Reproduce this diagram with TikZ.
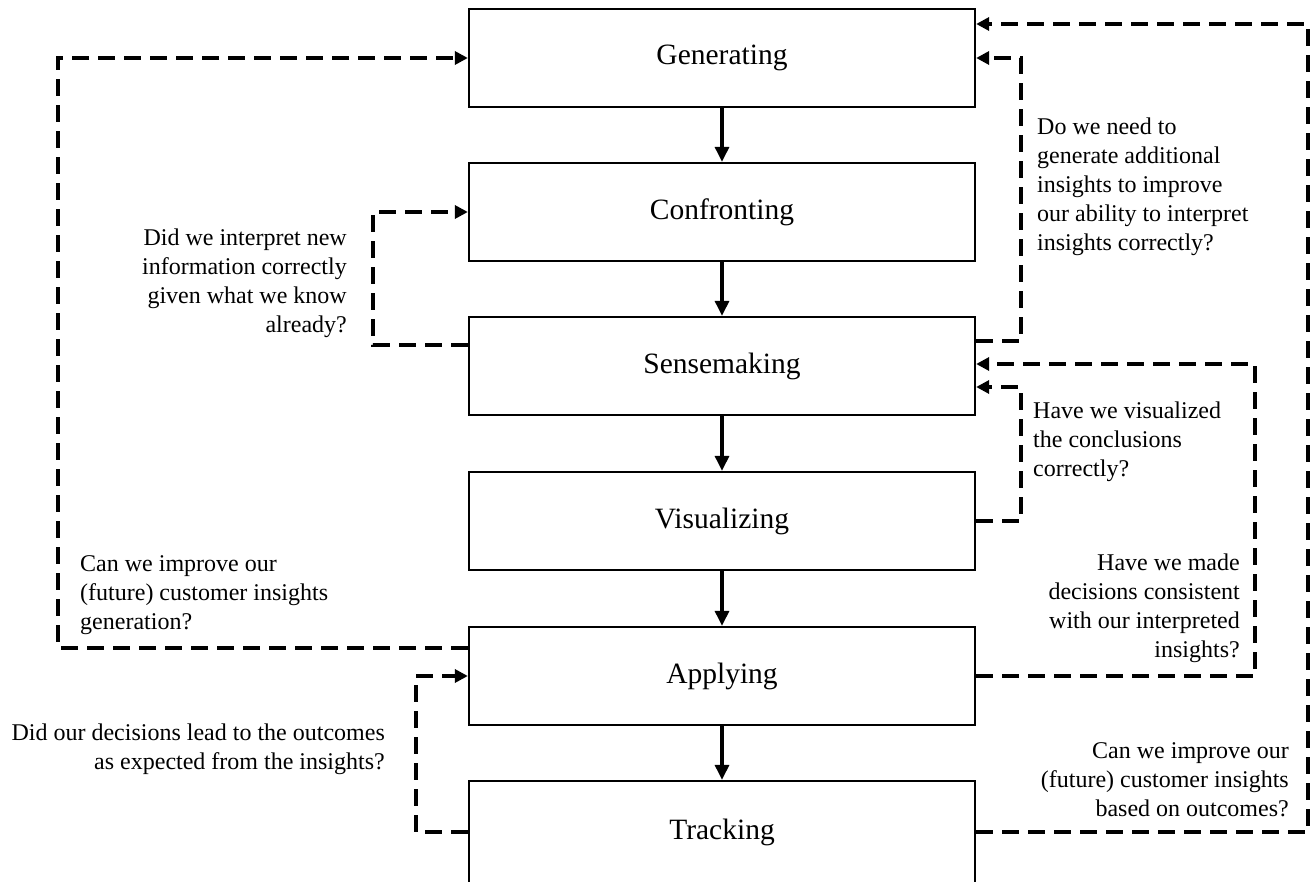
\documentclass[tikz,border=0pt]{standalone}
\usepackage{fontspec}
\setmainfont{Liberation Serif}
\usetikzlibrary{arrows.meta}
\begin{document}
\begin{tikzpicture}[x=1pt,y=-1pt,
  stage/.style={draw, line width=2.3pt, minimum width=506pt, minimum height=98pt, inner sep=0pt, font=\fontsize{29.5}{34}\selectfont},
  flow/.style={line width=3.2pt, -{Triangle[length=15pt,width=14pt]}},
  fb/.style={line width=3.6pt, dash pattern=on 17pt off 9pt, -{Triangle[length=13pt,width=13pt]}},
  q/.style={inner sep=0pt, font=\fontsize{24}{29}\selectfont}]
\useasboundingbox (0,0) rectangle (1312,882);
\clip (0,0) rectangle (1312,882);
\node[stage] (gen) at (722,58) {Generating};
\node[stage] (con) at (722,212) {Confronting};
\node[stage] (sen) at (722,366) {Sensemaking};
\node[stage] (vis) at (722,521) {Visualizing};
\node[stage] (app) at (722,676) {Applying};
\node[stage, minimum height=102pt] (trk) at (722,832) {Tracking};
\draw[flow] (gen) -- (con);
\draw[flow] (con) -- (sen);
\draw[flow] (sen) -- (vis);
\draw[flow] (vis) -- (app);
\draw[flow] (app) -- (trk.north);
% left feedback
\coordinate (l1) at (58,648);
\draw[fb] (app.west |- l1) -- (l1) |- (gen.west);
\coordinate (l2) at (373,345);
\draw[fb] (sen.west |- l2) -- (l2) |- (con.west);
\coordinate (l3) at (416,832);
\draw[fb] (trk.west |- l3) -- (l3) |- (app.west);
% right feedback
\coordinate (r1) at (1308,24);
\draw[fb] (trk.east) -| (r1) -- (gen.east |- r1);
\coordinate (r2) at (1021,341);
\draw[fb] (sen.east |- r2) -- (r2) |- (gen.east);
\coordinate (r3) at (1255,364);
\draw[fb] (app.east) -| (r3) -- (sen.east |- r3);
\coordinate (r4) at (1021,387);
\draw[fb] (vis.east) -| (r4) -- (sen.east |- r4);
% labels
\node[q, align=right, anchor=north east] (t1) at (347,229) {Did we interpret new\\information correctly\\given what we know\\already?};
\node[q, align=left, anchor=north west] (t2) at (1037,118) {Do we need to\\generate additional\\insights to improve\\our ability to interpret\\insights correctly?};
\node[q, align=left, anchor=north west] (t3) at (1033,402) {Have we visualized\\the conclusions\\correctly?};
\node[q, align=left, anchor=north west] (t4) at (80,555) {Can we improve our\\(future) customer insights\\generation?};
\node[q, align=right, anchor=north east] (t5) at (1240,554) {Have we made\\decisions consistent\\with our interpreted\\insights?};
\node[q, align=right, anchor=north east] (t6) at (385,724) {Did our decisions lead to the outcomes\\as expected from the insights?};
\node[q, align=right, anchor=north east] (t7) at (1289,742) {Can we improve our\\(future) customer insights\\based on outcomes?};
\end{tikzpicture}
\end{document}
